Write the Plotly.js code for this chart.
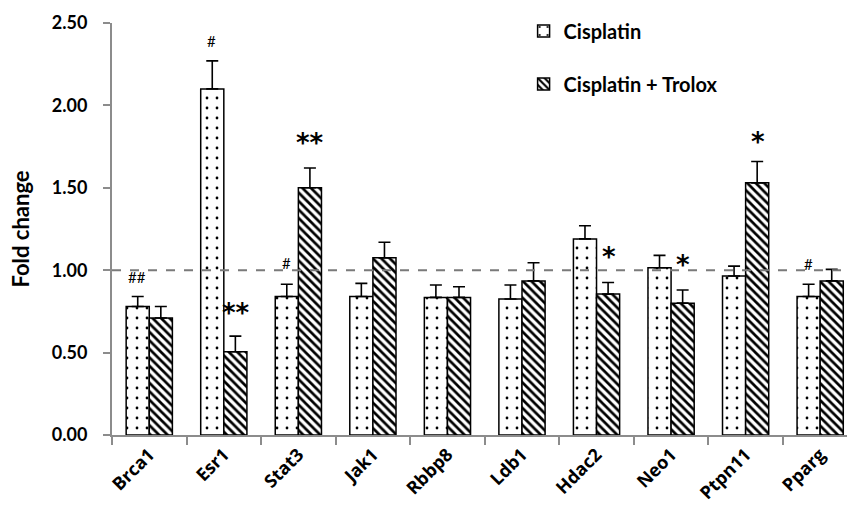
<!DOCTYPE html>
<html>
<head>
<meta charset="utf-8">
<script src="https://cdn.plot.ly/plotly-3.0.1.min.js"></script>
<style>html,body{margin:0;padding:0;background:#fff;}</style>
</head>
<body>
<div id="chart"></div>
<script>
var genes = ['Brca1','Esr1','Stat3','Jak1','Rbbp8','Ldb1','Hdac2','Neo1','Ptpn11','Pparg'];
var cisplatin = [0.78, 2.10, 0.84, 0.84, 0.835, 0.825, 1.19, 1.015, 0.965, 0.84];
var cisplatinErr = [0.06, 0.17, 0.075, 0.08, 0.075, 0.085, 0.08, 0.075, 0.06, 0.075];
var trolox = [0.71, 0.505, 1.50, 1.075, 0.835, 0.935, 0.855, 0.80, 1.53, 0.935];
var troloxErr = [0.07, 0.095, 0.12, 0.095, 0.065, 0.11, 0.07, 0.08, 0.13, 0.07];
var zeros = genes.map(function(){return 0;});
// significance marks: [gene, series (0=Cisplatin,1=Trolox), label, y value]
var marks = [
  ['Brca1', 0, '##', 0.96],
  ['Esr1', 0, '#', 2.39],
  ['Esr1', 1, '**', 0.74],
  ['Stat3', 0, '#', 1.045],
  ['Stat3', 1, '**', 1.77],
  ['Hdac2', 1, '*', 1.08],
  ['Neo1', 1, '*', 1.03],
  ['Ptpn11', 1, '*', 1.78],
  ['Pparg', 0, '#', 1.04]
];

var FONT = 'Lato, "Open Sans", sans-serif';

var traces = [
  {
    type: 'bar', name: 'Cisplatin', x: genes, y: cisplatin, legendgroup: 'a',
    marker: {color: '#ffffff', line: {color: '#000', width: 1.5},
      pattern: {shape: '.', fgcolor: '#000', bgcolor: '#ffffff', size: 10, solidity: 0.06}},
    error_y: {type: 'data', symmetric: false, array: cisplatinErr, arrayminus: zeros,
      color: '#000', thickness: 1.6, width: 6}
  },
  {
    type: 'bar', name: 'Cisplatin + Trolox', x: genes, y: trolox, legendgroup: 'b',
    marker: {color: '#ffffff', line: {color: '#000', width: 1.5},
      pattern: {shape: '\\', fgcolor: '#000', bgcolor: '#ffffff', size: 6, solidity: 0.45}},
    error_y: {type: 'data', symmetric: false, array: troloxErr, arrayminus: zeros,
      color: '#000', thickness: 1.6, width: 6}
  }
];

var annotations = marks.map(function(m){
  var big = m[2].indexOf('*') >= 0;
  return {
    x: m[0], y: m[3], xref: 'x', yref: 'y',
    text: big ? '<b>' + m[2] + '</b>' : m[2], showarrow: false,
    xshift: m[1] === 0 ? -12 : 12,
    font: {family: big ? 'DejaVu Sans, sans-serif' : FONT, size: big ? 26 : 15, color: '#000'},
    yanchor: 'middle', xanchor: 'center'
  };
});

var layout = {
  width: 847, height: 526,
  margin: {l: 112, r: 0, t: 23, b: 91},
  paper_bgcolor: '#fff', plot_bgcolor: '#fff',
  barmode: 'group', bargap: 0.38, bargroupgap: 0,
  showlegend: true,
  legend: {x: 0.56, y: 1.028, xanchor: 'left', yanchor: 'top',
    font: {family: FONT, size: 20, color: '#000', weight: 'bold'},
    tracegroupgap: 24, bgcolor: 'rgba(0,0,0,0)'},
  xaxis: {
    type: 'category', range: [-0.5, 9.36],
    tickangle: -45,
    tickfont: {family: '"Open Sans", verdana, arial, sans-serif', size: 18, color: '#000', weight: 'bold'},
    showline: true, linecolor: '#8c8c8c', linewidth: 2,
    ticks: 'outside', tickson: 'boundaries', ticklen: 8, tickwidth: 2, tickcolor: '#8c8c8c',
    showgrid: false, zeroline: false
  },
  yaxis: {
    range: [0, 2.5], dtick: 0.5, tick0: 0, tickformat: '.2f',
    showline: true, linecolor: '#8c8c8c', linewidth: 2,
    ticks: 'outside', ticklen: 7, tickwidth: 2, tickcolor: '#8c8c8c',
    ticklabelstandoff: 12,
    tickfont: {family: FONT, size: 18, color: '#000', weight: 'bold'},
    showgrid: false, zeroline: false,
    title: {text: 'Fold change', font: {family: FONT, size: 22, color: '#000', weight: 'bold'}, standoff: 16}
  },
  shapes: [{type: 'line', xref: 'paper', yref: 'y', x0: 0, x1: 1, y0: 1, y1: 1,
    line: {color: '#7a7a7a', width: 2, dash: 'dash'}, layer: 'above'}],
  annotations: annotations
};

Plotly.newPlot('chart', traces, layout, {displayModeBar: false});
</script>
</body>
</html>
